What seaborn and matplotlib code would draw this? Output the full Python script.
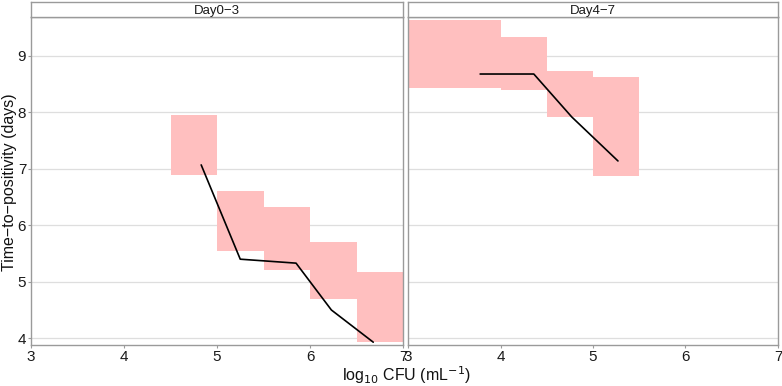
import matplotlib
matplotlib.use("Agg")
import matplotlib.pyplot as plt
import seaborn as sns
import pandas as pd

# -------------------------------
# Data
# -------------------------------
panels = ["Day0−3", "Day4−7"]

# bins of log10 CFU: left edge, ymin, ymax (interval of time-to-positivity)
bin_left_d03 = [4.5, 5.0, 5.5, 6.0, 6.5]
bin_low_d03 = [6.89, 5.55, 5.21, 4.70, 3.93]
bin_high_d03 = [7.95, 6.61, 6.32, 5.70, 5.18]

bin_left_d47 = [3.0, 4.0, 4.5, 5.0]
bin_width_d47 = [1.0, 0.5, 0.5, 0.5]
bin_low_d47 = [8.43, 8.40, 7.92, 6.88]
bin_high_d47 = [9.64, 9.34, 8.73, 8.63]

# fitted line
line_x_d03 = [4.83, 5.25, 5.85, 6.23, 6.68]
line_y_d03 = [7.07, 5.40, 5.33, 4.50, 3.93]
line_x_d47 = [3.78, 4.36, 4.77, 5.27]
line_y_d47 = [8.68, 8.68, 7.92, 7.14]

x_ticks = [3, 4, 5, 6, 7]
y_ticks = [4, 5, 6, 7, 8, 9]

boxes = {
    panels[0]: pd.DataFrame({"left": bin_left_d03, "width": [0.5] * 5,
                             "low": bin_low_d03, "high": bin_high_d03}),
    panels[1]: pd.DataFrame({"left": bin_left_d47, "width": bin_width_d47,
                             "low": bin_low_d47, "high": bin_high_d47}),
}
lines = {
    panels[0]: pd.DataFrame({"x": line_x_d03, "y": line_y_d03}),
    panels[1]: pd.DataFrame({"x": line_x_d47, "y": line_y_d47}),
}

# -------------------------------
# Figure
# -------------------------------
sns.set_style("white")
plt.rcParams["font.family"] = ["Liberation Sans", "DejaVu Sans"]

W, H = 782, 386
fig = plt.figure(figsize=(W / 100, H / 100), dpi=100)

panel_px = [(31, 403), (408, 778)]
top_px, strip_top_px, bottom_px = 17, 2, 345
edge = "#9a9a9a"

for i, (name, (x0, x1)) in enumerate(zip(panels, panel_px)):
    ax = fig.add_axes([x0 / W, 1 - bottom_px / H, (x1 - x0) / W,
                       (bottom_px - top_px) / H])
    d = boxes[name]
    ax.bar(d["left"], d["high"] - d["low"], width=d["width"], bottom=d["low"],
           align="edge", color="#ffbfbf", edgecolor="none", zorder=2)
    sns.lineplot(data=lines[name], x="x", y="y", color="black", lw=1.2,
                 sort=False, ax=ax, zorder=3)

    ax.set_xlim(3, 7)
    ax.set_ylim(3.88, 9.69)
    ax.set_xticks(x_ticks)
    ax.set_yticks(y_ticks)
    ax.yaxis.grid(True, color="#dedede", lw=0.9, zorder=0)
    ax.xaxis.grid(False)
    ax.set_axisbelow(True)
    for s in ax.spines.values():
        s.set_color(edge)
        s.set_linewidth(1.0)
    ax.tick_params(axis="both", labelsize=11, length=2, color=edge,
                   labelcolor="#1a1a1a", pad=1.5, bottom=True, left=(i == 0))
    ax.set_xlabel("")
    ax.set_ylabel("")
    if i == 1:
        ax.set_yticklabels([])

    # strip
    sax = fig.add_axes([x0 / W, 1 - top_px / H, (x1 - x0) / W,
                        (top_px - strip_top_px) / H])
    sax.set_xticks([])
    sax.set_yticks([])
    sax.set_facecolor("white")
    for s in sax.spines.values():
        s.set_color(edge)
        s.set_linewidth(1.0)
    sax.text(0.5, 0.42, name, ha="center", va="center", fontsize=9.5,
             color="#1a1a1a", transform=sax.transAxes)

fig.text(10 / W, 1 - 182 / H, "Time−to−positivity (days)", rotation=90,
         ha="center", va="center", fontsize=11.5, color="#111111")
fig.text(407 / W, 1 - 375 / H, r"log$_{10}$ CFU (mL$^{-1}$)", ha="center",
         va="center", fontsize=11.5, color="#111111")

fig.savefig("out.png", dpi=100)
